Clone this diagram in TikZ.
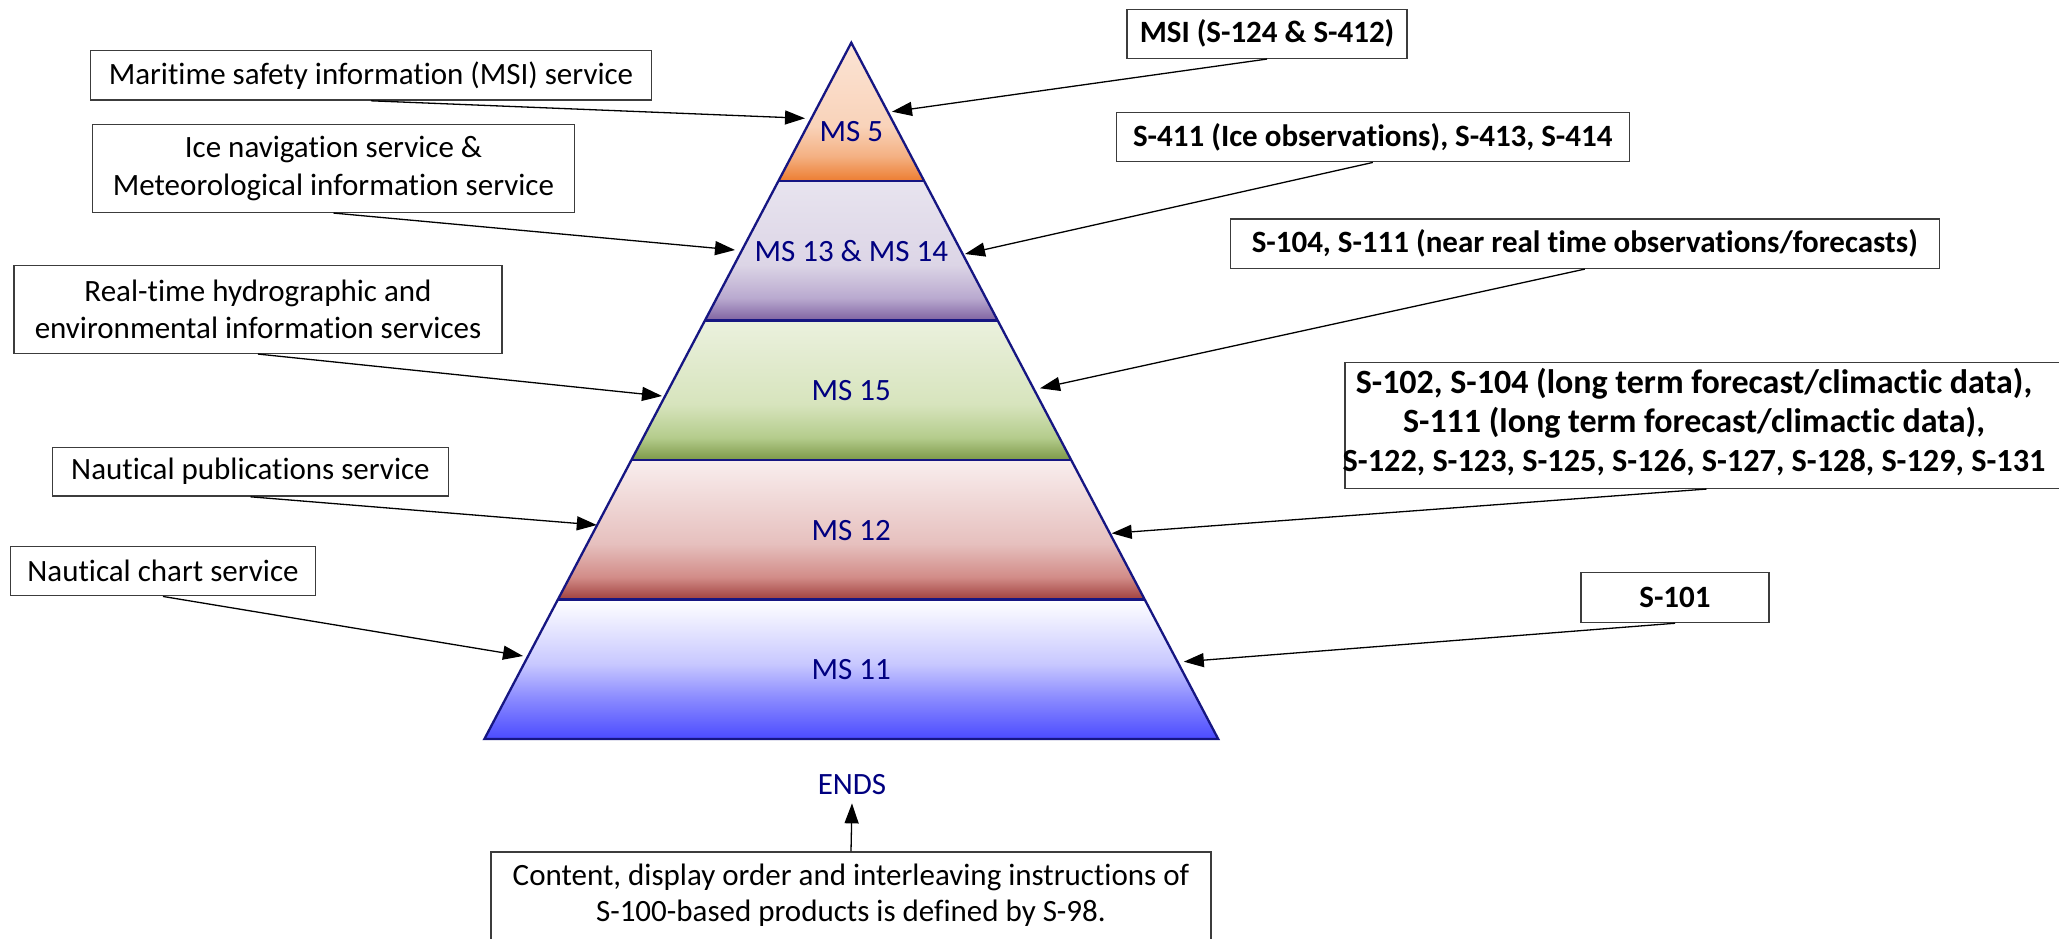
\documentclass[tikz,border=0pt]{standalone}
\usepackage{fontspec}
\setmainfont{Carlito}[Ligatures={NoCommon,NoContextual}]
\usetikzlibrary{arrows.meta,calc}
\definecolor{navy}{RGB}{0,0,128}
\definecolor{pyredge}{RGB}{22,22,130}
\definecolor{boxline}{RGB}{60,60,60}
% band colours
\definecolor{orL}{RGB}{251,228,213}
\definecolor{orM}{RGB}{249,211,186}
\definecolor{orK}{RGB}{244,177,131}
\definecolor{orD}{RGB}{237,125,49}
\definecolor{puL}{RGB}{232,228,239}
\definecolor{puM}{RGB}{220,213,230}
\definecolor{puK}{RGB}{185,169,207}
\definecolor{puD}{RGB}{127,99,161}
\definecolor{grL}{RGB}{235,241,222}
\definecolor{grM}{RGB}{215,228,189}
\definecolor{grK}{RGB}{180,204,140}
\definecolor{grD}{RGB}{125,152,72}
\definecolor{reL}{RGB}{249,238,238}
\definecolor{reM}{RGB}{230,192,190}
\definecolor{reK}{RGB}{210,140,136}
\definecolor{reD}{RGB}{160,64,62}
\definecolor{blL}{RGB}{255,255,255}
\definecolor{blM}{RGB}{200,200,255}
\definecolor{blK}{RGB}{140,140,255}
\definecolor{blD}{RGB}{75,75,255}
\pgfdeclareverticalshading{shfive}{100bp}{color(0bp)=(orD); color(25bp)=(orD); color(34bp)=(orK); color(45bp)=(orM); color(75bp)=(orL); color(100bp)=(orL)}
\pgfdeclareverticalshading{shthirteen}{100bp}{color(0bp)=(puD); color(25bp)=(puD); color(33bp)=(puK); color(45bp)=(puM); color(75bp)=(puL); color(100bp)=(puL)}
\pgfdeclareverticalshading{shfifteen}{100bp}{color(0bp)=(grD); color(25bp)=(grD); color(33bp)=(grK); color(45bp)=(grM); color(75bp)=(grL); color(100bp)=(grL)}
\pgfdeclareverticalshading{shtwelve}{100bp}{color(0bp)=(reD); color(25bp)=(reD); color(33bp)=(reK); color(45bp)=(reM); color(75bp)=(reL); color(100bp)=(reL)}
\pgfdeclareverticalshading{sheleven}{100bp}{color(0bp)=(blD); color(25bp)=(blD); color(40bp)=(blK); color(52bp)=(blM); color(75bp)=(blL); color(100bp)=(blL)}
\begin{document}
\begin{tikzpicture}[x=1pt,y=-1pt,
  txt/.style={font=\fontsize{31}{37.5}\selectfont},
  lbl/.style={font=\fontsize{31}{37.5}\selectfont, text=navy, inner sep=0pt},
  box/.style={draw=boxline, line width=1.5pt, fill=white, align=center, inner sep=0pt,
              font=\fontsize{31}{37.5}\selectfont},
  bbox/.style={box, font=\fontsize{31}{37.5}\selectfont\bfseries},
  band/.style={draw=pyredge, line width=2.3pt, line join=miter},
  conn/.style={-{Triangle[length=20pt,width=14pt]}, line width=1.3pt, black}]
\clip (0,0) rectangle (2059,939);
\fill[white] (0,0) rectangle (2059,939);

% pyramid bands
\path[shading=shfive] (851.3,42.7) -- (924.2,181) -- (778.4,181) -- cycle;
\path[shading=shthirteen] (778.4,181) -- (924.2,181) -- (997.7,320.5) -- (704.9,320.5) -- cycle;
\path[shading=shfifteen] (704.9,320.5) -- (997.7,320.5) -- (1071.2,460) -- (631.4,460) -- cycle;
\path[shading=shtwelve] (631.4,460) -- (1071.2,460) -- (1144.7,599.5) -- (557.9,599.5) -- cycle;
\path[shading=sheleven] (557.9,599.5) -- (1144.7,599.5) -- (1218.2,739) -- (484.4,739) -- cycle;
\draw[band] (851.3,42.7) -- (1218.2,739) -- (484.4,739) -- cycle;
\draw[band] (778.4,181) -- (924.2,181);
\draw[band] (704.9,320.5) -- (997.7,320.5);
\draw[band] (631.4,460) -- (1071.2,460);
\draw[band] (557.9,599.5) -- (1144.7,599.5);

% band labels
\node[lbl] (ms5) at (851.3,131.7) {MS 5};
\node[lbl] (ms13) at (851.3,250.7) {MS 13 \& MS 14};
\node[lbl] (ms15) at (851.3,391) {MS 15};
\node[lbl] (ms12) at (851.3,531) {MS 12};
\node[lbl] (ms11) at (851.3,669.3) {MS 11};
\node[lbl, inner sep=8pt] (ends) at (852,785) {ENDS};

% left boxes
\node[box, minimum width=561pt, minimum height=49.3pt] (l1) at (371,75.4) {Maritime safety information (MSI) service};
\node[box, minimum width=482pt, minimum height=88pt] (l2) at (333.5,168.3) {Ice navigation service \&\\Meteorological information service};
\node[box, minimum width=488pt, minimum height=87.6pt] (l3) at (258,309.5) {Real-time hydrographic and\\environmental information services};
\node[box, minimum width=395.7pt, minimum height=48.7pt] (l4) at (250.5,471.7) {Nautical publications service};
\node[box, minimum width=305pt, minimum height=49pt] (l5) at (163,571.2) {Nautical chart service};

% right boxes
\node[bbox, minimum width=280pt, minimum height=49pt] (r1) at (1267,33.8) {MSI (S-124 \& S-412)};
\node[bbox, minimum width=513pt, minimum height=49pt] (r2) at (1372.8,137.2) {S-411 (Ice observations), S-413, S-414};
\node[bbox, minimum width=709pt, minimum height=49.3pt] (r3) at (1584.8,243.7) {S-104, S-111 (near real time observations/forecasts)};
\node[box, minimum width=723pt, minimum height=125.6pt] (r4) at (1706.5,425.5) {};
\node[txt, font=\fontsize{34}{39}\selectfont\bfseries, align=center, inner sep=0pt] (r4t) at (1694,422.5) {S-102, S-104 (long term forecast/climactic data),\\S-111 (long term forecast/climactic data),\\{\fontsize{32.3}{39}\selectfont S-122, S-123, S-125, S-126, S-127, S-128, S-129, S-131}};
\node[bbox, minimum width=188pt, minimum height=50pt] (r5) at (1675,597.5) {S-101};

% bottom box
\node[box, minimum width=720pt, minimum height=106pt] (bb) at (851,905) {};
\node[txt, align=center, inner sep=0pt, font=\fontsize{31}{36.5}\selectfont] (bbt) at (851,895) {Content, display order and interleaving instructions of\\S-100-based products is defined by S-98.};

% arrow tips
\coordinate (t1) at (805,118.3);
\coordinate (t2) at (735,250);
\coordinate (t3) at (662,396);
\coordinate (t4) at (596.8,525);
\coordinate (t5) at (523,656);
\coordinate (t6) at (892,111.7);
\coordinate (t7) at (965,254);
\coordinate (t8) at (1040,388.3);
\coordinate (t9) at (1111.7,533.3);
\coordinate (t10) at (1183.8,661.7);

\draw[conn] (l1.south) -- (t1);
\draw[conn] (l2.south) -- (t2);
\draw[conn] (l3.south) -- (t3);
\draw[conn] (l4.south) -- (t4);
\draw[conn] (l5.south) -- (t5);
\draw[conn] (r1.south) -- (t6);
\draw[conn] (r2.south) -- (t7);
\draw[conn] (r3.south) -- (t8);
\draw[conn] (r4.south) -- (t9);
\draw[conn] (r5.south) -- (t10);
\draw[conn] (bb.north) -- (ends.south);
\end{tikzpicture}
\end{document}
